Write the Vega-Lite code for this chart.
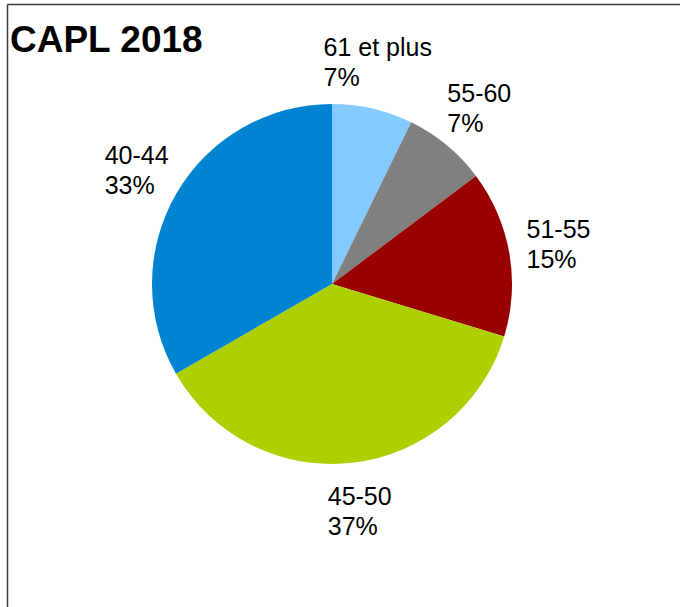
{
  "$schema": "https://vega.github.io/schema/vega-lite/v6.json",
  "width": 650,
  "height": 560,
  "autosize": {"type": "none"},
  "padding": {"left": 7, "top": 4, "right": 23, "bottom": 43},
  "background": "white",
  "config": {"view": {"stroke": null}},
  "title": {
    "text": "CAPL 2018",
    "anchor": "start",
    "frame": "group",
    "font": "Liberation Sans",
    "fontSize": 37,
    "fontWeight": "bold",
    "color": "#000000",
    "baseline": "alphabetic",
    "offset": 0,
    "dx": 3,
    "dy": 85
  },
  "data": {
    "values": [
      {"age": "61 et plus", "share": 7.25, "pct": "7%", "order": 1},
      {"age": "55-60", "share": 7.5, "pct": "7%", "order": 2},
      {"age": "51-55", "share": 14.95, "pct": "15%", "order": 3},
      {"age": "45-50", "share": 37.0, "pct": "37%", "order": 4},
      {"age": "40-44", "share": 33.3, "pct": "33%", "order": 5}
    ]
  },
  "transform": [{"calculate": "datum.age + '\\n' + datum.pct", "as": "lbl"}],
  "layer": [
    {
      "mark": {"type": "arc", "outerRadius": 180},
      "encoding": {
        "theta": {"field": "share", "type": "quantitative", "stack": true},
        "order": {"field": "order", "type": "quantitative"},
        "color": {
          "field": "age",
          "type": "nominal",
          "scale": {
            "domain": ["61 et plus", "55-60", "51-55", "45-50", "40-44"],
            "range": ["#83CAFF", "#808080", "#990000", "#AECF00", "#0084D1"]
          },
          "legend": null
        }
      }
    },
    {
      "mark": {
        "type": "text",
        "radius": 228,
        "font": "Liberation Sans",
        "fontSize": 25,
        "lineBreak": "\n",
        "lineHeight": 30,
        "align": "left",
        "baseline": "middle",
        "color": "#000000",
        "dy": -14,
        "dx": {"expr": "-length(datum.age) * 6"}
      },
      "encoding": {
        "theta": {"field": "share", "type": "quantitative", "stack": true},
        "order": {"field": "order", "type": "quantitative"},
        "detail": {"field": "age", "type": "nominal"},
        "text": {"field": "lbl", "type": "nominal"}
      }
    },
    {
      "mark": {"type": "point", "opacity": 0},
      "encoding": {
        "x": {
          "datum": 0,
          "type": "quantitative",
          "scale": {"domain": [0, 1], "range": [0, 673]},
          "axis": {"orient": "top", "domainColor": "#3c3c3c", "domainWidth": 1.5, "ticks": false, "labels": false, "title": null, "grid": false}
        },
        "y": {
          "datum": 0,
          "type": "quantitative",
          "scale": {"domain": [0, 1], "range": [603, 0]},
          "axis": {"orient": "left", "domainColor": "#3c3c3c", "domainWidth": 1.5, "ticks": false, "labels": false, "title": null, "grid": false}
        }
      }
    }
  ]
}
